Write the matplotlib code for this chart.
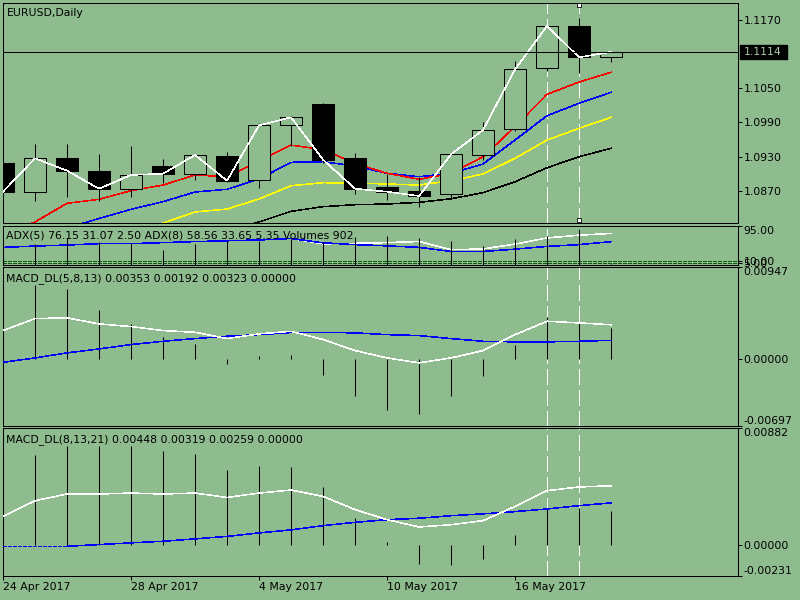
"""MT4-style EURUSD daily chart: candles + MAs, ADX/volume, two MACD_DL panes."""
import matplotlib
matplotlib.use("Agg")
import matplotlib.pyplot as plt
import matplotlib.transforms as mtransforms
from matplotlib.patches import Rectangle
import numpy as np

W, H = 800, 600
BG = "#8FBC8F"
FS = 7.8
LW = 0.4
nan = float("nan")

plt.rcParams["font.family"] = ["DejaVu Sans"]
plt.rcParams["lines.scale_dashes"] = False

# ---- data ------------------------------------------------------------------
TICK_BARS = [0, 4, 8, 12, 16]
TICK_LABELS = ["24 Apr 2017", "28 Apr 2017", "4 May 2017", "10 May 2017", "16 May 2017"]

OPEN = [1.09186, 1.08682, 1.09269, 1.09045, 1.08734, 1.09139, 1.08987, 1.09309,
        1.08882, 1.09849, 1.10218, 1.09270, 1.08759, 1.08689, 1.08636, 1.09332,
        1.09779, 1.10851, 1.11595, 1.11044]
HIGH = [1.09250, 1.09520, 1.09520, 1.09344, 1.09490, 1.09256, 1.09345, 1.09380,
        1.09884, 1.10010, 1.10241, 1.09357, 1.08998, 1.08945, 1.09345, 1.09907,
        1.10979, 1.11600, 1.11730, 1.11150]
LOW = [1.08640, 1.08518, 1.08583, 1.08518, 1.08580, 1.08829, 1.08887, 1.08847,
       1.08752, 1.09490, 1.09181, 1.08646, 1.08536, 1.08407, 1.08571, 1.09244,
       1.09749, 1.10809, 1.10763, 1.10967]
CLOSE = [1.08682, 1.09269, 1.09051, 1.08734, 1.08975, 1.08998, 1.09327, 1.08875,
         1.09849, 1.09990, 1.09244, 1.08734, 1.08682, 1.08606, 1.09339, 1.09766,
         1.10833, 1.11595, 1.11044, 1.11140]
LAST_PRICE = 1.1114

MA_RED = [1.07900, 1.08150, 1.08478, 1.08548, 1.08700, 1.08799, 1.08975, 1.08945,
          1.09221, 1.09500, 1.09420, 1.09180, 1.09005, 1.08900, 1.09005, 1.09297,
          1.09824, 1.10394, 1.10610, 1.10781]
MA_BLUE = [nan, nan, 1.08043, 1.08210, 1.08372, 1.08506, 1.08676, 1.08724,
           1.08905, 1.09198, 1.09209, 1.09133, 1.09005, 1.08945, 1.09005, 1.09168,
           1.09590, 1.10018, 1.10236, 1.10429]
MA_YELLOW = [nan, nan, nan, nan, 1.07950, 1.08131, 1.08325, 1.08377,
             1.08553, 1.08787, 1.08840, 1.08834, 1.08817, 1.08799, 1.08875, 1.08993,
             1.09269, 1.09590, 1.09796, 1.09989]
MA_BLACK = [nan, nan, nan, nan, nan, nan, nan, 1.08000,
            1.08149, 1.08337, 1.08418, 1.08453, 1.08465, 1.08495, 1.08558, 1.08664,
            1.08857, 1.09103, 1.09297, 1.09444]

ADX5 = [nan] * 9 + [63.7, 50.8, 52.1, 53.8, 56.5, 36.5, 38.4, 50.3, 65.2, 71.9, 76.15]
ADX8 = [42.2, 45.4, 47.9, 51.3, 51.3, 53.8, 56.3, 58.3, 60.3, 63.7, 53.3, 48.9,
        45.9, 42.2, 32.2, 32.2, 37.9, 44.6, 48.9, 56.0]
ADX_LEVELS = [5, 10]
VOLUME = [20000, 18900, 24100, 20500, 19800, 13000, 18700, 21100, 21600, 22900,
          20500, 24700, 25900, 24400, 21400, 16900, 23200, 25600, 32500, 902]

MACD1 = [0.00293, 0.00417, 0.00424, 0.00362, 0.00334, 0.00293, 0.00275, 0.00210,
         0.00259, 0.00285, 0.00200, 0.00086, 0.00010, -0.00041, 0.00010, 0.00086,
         0.00251, 0.00389, 0.00372, 0.00353]
SIGNAL1 = [-0.00035, 0.00010, 0.00062, 0.00103, 0.00148, 0.00182, 0.00210, 0.00234,
           0.00251, 0.00272, 0.00275, 0.00269, 0.00251, 0.00241, 0.00210, 0.00182,
           0.00176, 0.00176, 0.00182, 0.00192]
HIST1 = [0.00750, 0.00768, 0.00727, 0.00510, 0.00365, 0.00231, 0.00158, -0.00049,
         0.00027, 0.00044, -0.00162, -0.00387, -0.00524, -0.00566, -0.00387, -0.00180,
         0.00148, 0.00430, 0.00383, 0.00323]

MACD2 = [0.00217, 0.00335, 0.00386, 0.00386, 0.00393, 0.00386, 0.00393, 0.00360,
         0.00393, 0.00416, 0.00368, 0.00268, 0.00192, 0.00137, 0.00154, 0.00185,
         0.00292, 0.00411, 0.00439, 0.00448]
SIGNAL2 = [-0.00009, -0.00009, -0.00009, 0.00004, 0.00017, 0.00029, 0.00047, 0.00066,
           0.00092, 0.00115, 0.00147, 0.00172, 0.00192, 0.00203, 0.00222, 0.00236,
           0.00253, 0.00273, 0.00298, 0.00319]
HIST2 = [0.00680, 0.00682, 0.00745, 0.00745, 0.00750, 0.00712, 0.00690, 0.00569,
         0.00599, 0.00589, 0.00436, 0.00207, 0.00021, -0.00139, -0.00147, -0.00102,
         0.00074, 0.00273, 0.00280, 0.00259]

SELECTED_BARS = [17, 18]   # the two dashed vertical lines

x = np.arange(len(CLOSE))
XLIM = (0, 22.95)


def box(x0, y0, x1, y1):
    """pixel box (top-left origin) -> figure fraction rect"""
    return [x0 / W, 1 - y1 / H, (x1 - x0) / W, (y1 - y0) / H]


def pane(rect, ylim, ticks, labels, edge=True):
    ax = fig.add_axes(rect)
    ax.set_facecolor(BG)
    for s in ax.spines.values():
        s.set_linewidth(0.75)
        s.set_color("black")
    ax.set_xlim(*XLIM)
    ax.set_ylim(*ylim)
    ax.yaxis.tick_right()
    ax.set_yticks(ticks)
    ax.set_yticklabels(labels)
    ax.tick_params(axis="y", length=3, width=0.75, pad=1.2, labelsize=FS, colors="black")
    ax.set_xticks([])
    if edge:
        for val, lab in zip(ticks, ax.get_yticklabels()):
            if val == ylim[1]:
                lab.set_verticalalignment("top")
            elif val == ylim[0]:
                lab.set_verticalalignment("bottom")
    for b in SELECTED_BARS:
        ax.axvline(b, color="white", lw=LW, dashes=(11.5, 3.6), antialiased=False,
                   zorder=0.5)
    return ax


def line(ax, y, color, **kw):
    ax.plot(x, y, color=color, lw=LW, antialiased=False, **kw)


fig = plt.figure(figsize=(W / 100, H / 100), dpi=100, facecolor=BG)

# ---- main price pane -------------------------------------------------------
main_ticks = [1.0870, 1.0930, 1.0990, 1.1050, 1.1170]
ax = pane(box(3, 3, 737.5, 223.3), (1.08126, 1.11999), main_ticks,
          [f"{v:.4f}" for v in main_ticks], edge=False)
line(ax, MA_BLACK, "black", zorder=2)
line(ax, MA_YELLOW, "#FFFF00", zorder=2)
line(ax, MA_BLUE, "#0000FF", zorder=2)
line(ax, MA_RED, "#FF0000", zorder=2)

o, c = np.array(OPEN), np.array(CLOSE)
bull = c >= o
ax.vlines(x, LOW, HIGH, color="black", lw=0.75, zorder=3)
ax.bar(x, np.abs(c - o), bottom=np.minimum(o, c), width=0.7,
       color=np.where(bull, BG, "black"), edgecolor="black", linewidth=0.75, zorder=4)
line(ax, CLOSE, "white", zorder=5)
ax.axhline(LAST_PRICE, color="black", lw=0.75, zorder=6)

# selection handles on the chosen vertical line
blend = mtransforms.blended_transform_factory(ax.transData, ax.transAxes)
ax.plot([SELECTED_BARS[1]] * 2, [0.99, 0.015], "s", ms=3, mfc="white", mec="black",
        mew=0.6, transform=blend, clip_on=False, zorder=7)

# current price tag on the right axis
lo, hi = ax.get_ylim()
per_px = (hi - lo) / 220.3
tag_tr = mtransforms.blended_transform_factory(ax.transAxes, ax.transData)
ax.add_patch(Rectangle((1 + 2.5 / 734.5, LAST_PRICE - 6.7 * per_px), 46.7 / 734.5,
                       13.3 * per_px, transform=tag_tr, color="black", clip_on=False,
                       zorder=8))
ax.text(1 + 6 / 734.5, LAST_PRICE, f"{LAST_PRICE:.4f}", transform=tag_tr,
        va="center", ha="left", fontsize=FS, color="#A8CCA8", zorder=9)

# ---- ADX + volumes pane ----------------------------------------------------
adx_rect = box(3, 225.7, 737.5, 264.7)
ax2 = pane(adx_rect, (0, 95), [5, 10, 95], ["5.00", "10.00", "95.00"])
for lv in ADX_LEVELS:
    ax2.axhline(lv, color="#0B5A0B", lw=LW, dashes=(2.2, 1.4), antialiased=False,
                zorder=1)
line(ax2, ADX8, "#0000FF", zorder=3)
line(ax2, ADX5, "white", zorder=2)
axv = fig.add_axes(adx_rect, zorder=ax2.get_zorder() + 1)
axv.set_xlim(*XLIM)
axv.set_ylim(0, 35200)
axv.axis("off")
axv.vlines(x, 0, VOLUME, color="black", lw=0.75)

# ---- MACD panes ------------------------------------------------------------
m1_ticks = [-0.00697, 0.0, 0.00947]
ax3 = pane(box(3, 267.3, 737.5, 426.3), (-0.00697, 0.00947), m1_ticks,
           [f"{v:.5f}" for v in m1_ticks])
ax3.vlines(x, 0, HIST1, color="black", lw=0.75, zorder=2)
line(ax3, SIGNAL1, "#0000FF", zorder=3)
line(ax3, MACD1, "white", zorder=3)

m2_ticks = [-0.00231, 0.0, 0.00882]
ax4 = pane(box(3, 428.3, 737.5, 575.7), (-0.00231, 0.00882), m2_ticks,
           [f"{v:.5f}" for v in m2_ticks])
ax4.vlines(x, 0, HIST2, color="black", lw=0.75, zorder=2)
ax4.plot(x[:3], SIGNAL2[:3], color="#0000FF", lw=LW, dashes=(2.2, 1.4),
         antialiased=False, zorder=3)
ax4.plot(x[2:], SIGNAL2[2:], color="#0000FF", lw=LW, antialiased=False, zorder=3)
line(ax4, MACD2, "white", zorder=3)
ax4.set_xticks(TICK_BARS)
ax4.set_xticklabels(TICK_LABELS, ha="left")
ax4.tick_params(axis="x", length=3, width=0.75, pad=1.5, labelsize=FS, colors="black")

# ---- pane captions ---------------------------------------------------------
def caption(px, py, s):
    fig.text(px / W, 1 - py / H, s, fontsize=FS, va="center", ha="left", color="black")

caption(7, 12.5, "EURUSD,Daily")
caption(6, 236, "ADX(5) 76.15 31.07 2.50 ADX(8) 58.56 33.65 5.35 Volumes 902")
caption(6, 278.5, "MACD_DL(5,8,13) 0.00353 0.00192 0.00323 0.00000")
caption(6, 440, "MACD_DL(8,13,21) 0.00448 0.00319 0.00259 0.00000")

fig.savefig("out.png", dpi=100, facecolor=BG)
